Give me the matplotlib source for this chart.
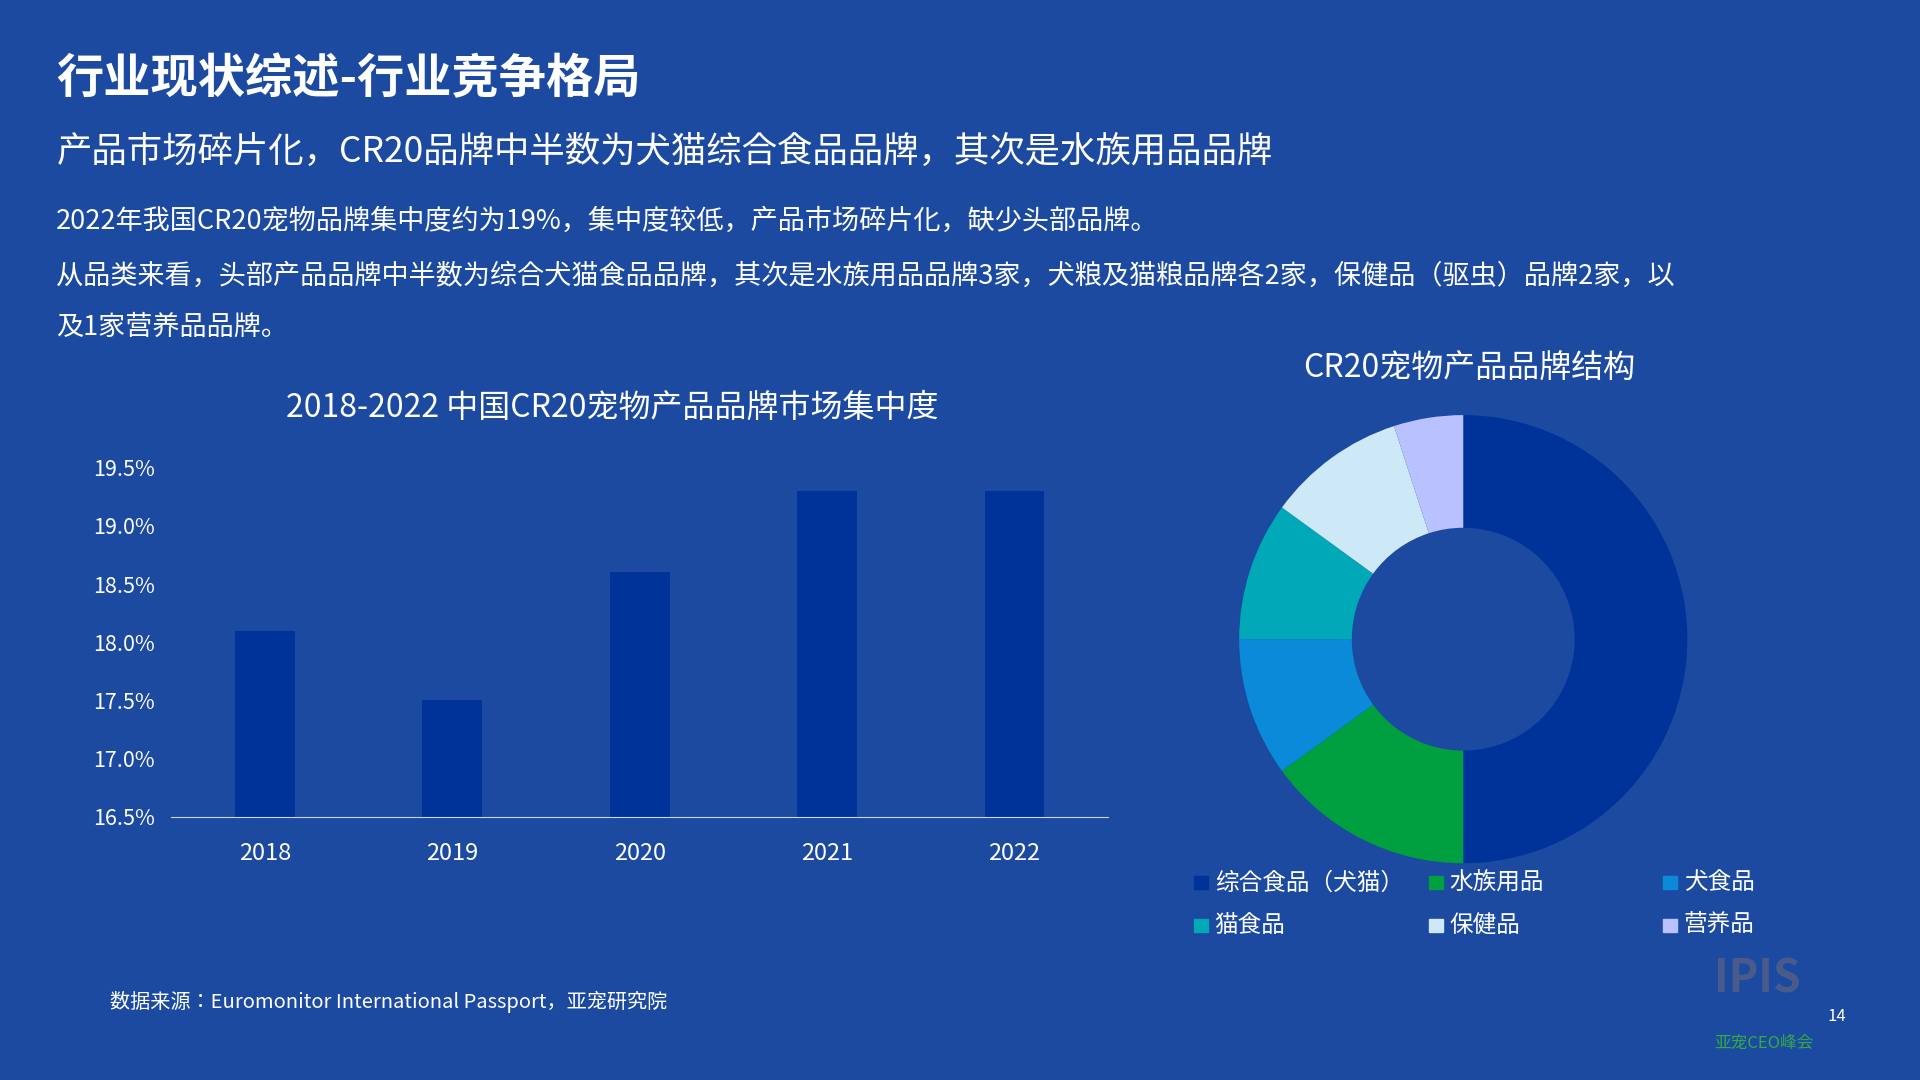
import matplotlib
matplotlib.use("Agg")
import matplotlib.pyplot as plt
from matplotlib.patches import Rectangle

plt.rcParams["font.family"] = ["Noto Sans CJK JP", "Noto Sans CJK SC", "Noto Sans CJK TC", "Noto Sans CJK KR", "DejaVu Sans"]

years = ["2018", "2019", "2020", "2021", "2022"]
cr20 = [18.1, 17.5, 18.6, 19.3, 19.3]
yticks = [16.5, 17.0, 17.5, 18.0, 18.5, 19.0, 19.5]

cats = ["综合食品（犬猫）", "水族用品", "犬食品", "猫食品", "保健品", "营养品"]
counts = [10, 3, 2, 2, 2, 1]
colors = ["#00339a", "#00a040", "#0a8ad8", "#00a8b8", "#cde8f6", "#b9c2ff"]

BG = "#1b4aa0"
fig = plt.figure(figsize=(19.2, 10.8), dpi=100, facecolor=BG)

W, H = 1568, 882
def fx(x): return x / W
def fy(y): return 1 - y / H

fig.text(fx(46), fy(65), "行业现状综述-行业竞争格局", color="white", fontsize=34, fontweight="bold", va="center")
fig.text(fx(46), fy(124), "产品市场碎片化，CR20品牌中半数为犬猫综合食品品牌，其次是水族用品品牌", color="white", fontsize=25.5, va="center")
fig.text(fx(46), fy(181), "2022年我国CR20宠物品牌集中度约为19%，集中度较低，产品市场碎片化，缺少头部品牌。", color="white", fontsize=19.5, va="center")
fig.text(fx(46), fy(226), "从品类来看，头部产品品牌中半数为综合犬猫食品品牌，其次是水族用品品牌3家，犬粮及猫粮品牌各2家，保健品（驱虫）品牌2家，以", color="white", fontsize=19.5, va="center")
fig.text(fx(46), fy(267), "及1家营养品品牌。", color="white", fontsize=19.5, va="center")
fig.text(fx(500), fy(333), "2018-2022 中国CR20宠物产品品牌市场集中度", color="white", fontsize=23, ha="center", va="center")
fig.text(fx(1200), fy(301), "CR20宠物产品品牌结构", color="white", fontsize=23, ha="center", va="center")
fig.text(fx(90), fy(818), "数据来源：Euromonitor International Passport，亚宠研究院", color="white", fontsize=14.5, va="center")
fig.text(fx(1400), fy(800), "IPIS", color="#4a5a8a", fontsize=32, fontweight="bold", va="center")
fig.text(fx(1500), fy(830), "14", color="white", fontsize=12, ha="center", va="center")
fig.text(fx(1400), fy(852), "亚宠CEO峰会", color="#33aa44", fontsize=12, va="center")

ax = fig.add_axes([fx(140), fy(667), fx(905) - fx(140), fy(382) - fy(667)])
ax.set_facecolor(BG)
ax.bar(range(len(years)), [v - 16.5 for v in cr20], bottom=16.5, width=0.32, color="#00339a")
ax.set_ylim(16.5, 19.5)
ax.set_xlim(-0.5, 4.5)
ax.set_yticks(yticks)
ax.set_yticklabels([f"{t:.1f}%" for t in yticks], color="white", fontsize=15.5)
ax.set_xticks(range(len(years)))
ax.set_xticklabels(years, color="white", fontsize=17)
ax.tick_params(axis="y", length=0, pad=12)
ax.tick_params(axis="x", length=0, pad=18)
for s in ["top", "right", "left"]:
    ax.spines[s].set_visible(False)
ax.spines["bottom"].set_color("#c8d4ee")

axp = fig.add_axes([fx(1195) - 0.2, fy(522) - 0.2 * 19.2 / 10.8, 0.4, 0.4 * 19.2 / 10.8])
axp.set_facecolor("none")
unit = 0.2 * W
axp.pie(counts, colors=colors, startangle=90, counterclock=False,
        radius=183 / unit, wedgeprops=dict(width=(183 - 91) / unit, linewidth=0))
axp.set_xlim(-1, 1); axp.set_ylim(-1, 1); axp.set_aspect("equal")
axp.axis("off")

pos = [(975, 721), (1167, 721), (1358, 721), (975, 756), (1167, 756), (1358, 756)]
for (x, y), c, lab in zip(pos, colors, cats):
    fig.patches.append(Rectangle((fx(x), fy(y) - 0.006), 0.0075, 0.0125, transform=fig.transFigure, color=c))
    fig.text(fx(x + 17), fy(y), lab, color="white", fontsize=17, va="center")

fig.savefig("out.png", dpi=100, facecolor=BG)
